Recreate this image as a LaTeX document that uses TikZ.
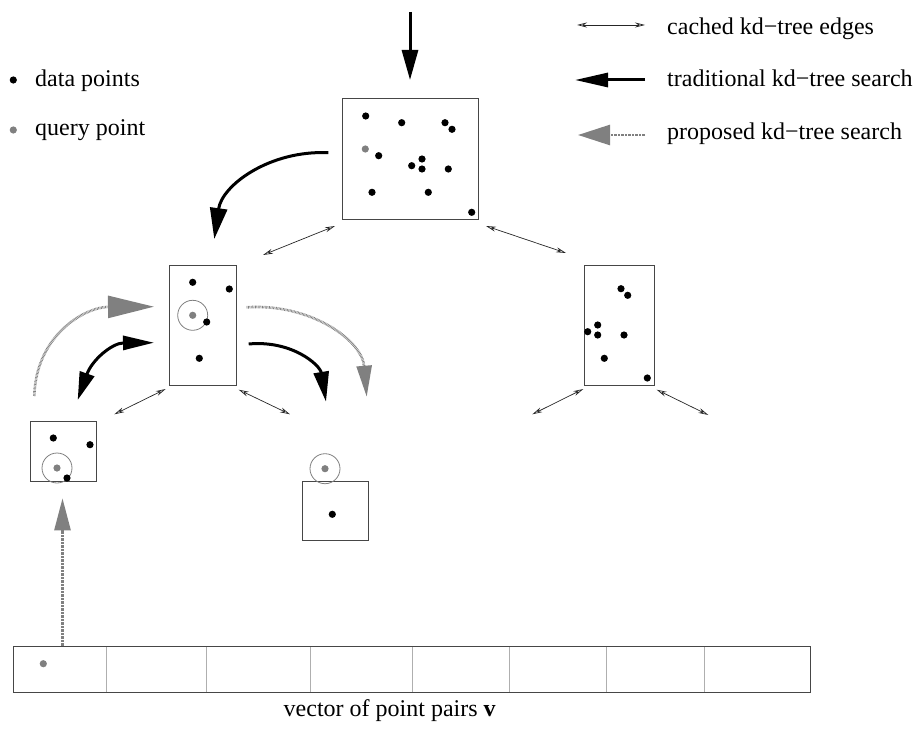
\documentclass[tikz,border=0pt]{standalone}
\usepackage{fontspec}
\setmainfont{Liberation Serif}
\usetikzlibrary{arrows.meta}
\definecolor{qgray}{RGB}{128,128,128}
\definecolor{boxgray}{RGB}{70,70,70}
\definecolor{divgray}{RGB}{175,175,175}
\tikzset{
  kdbox/.style={draw=boxgray, line width=1pt, inner sep=0pt, outer sep=0pt, rectangle},
  cached/.style={line width=0.7pt, black!85, {Stealth[length=10pt,width=5pt,open]}-{Stealth[length=10pt,width=5pt,open]}},
  trad/.style={line width=3pt, black},
  prop/.style={line width=2.6pt, qgray, dash pattern=on 0.7pt off 0.7pt},
  lbl/.style={anchor=base west, inner sep=0pt, font=\fontsize{24}{28}\selectfont},
  srch/.style={draw=qgray, line width=0.8pt},
}
\newcommand\dpt[1]{\fill[black] #1 circle[radius=3.6pt];}
\newcommand\qpt[1]{\fill[qgray] #1 circle[radius=3.6pt];}
\begin{document}
\begin{tikzpicture}[x=1pt,y=-1pt]
\useasboundingbox (0,0) rectangle (920,738);

% ---------- legend ----------
\coordinate (lc1) at (645,25); \coordinate (lc2) at (577,25);
\draw[cached] (lc1) -- (lc2);
\node[lbl] (lcached) at (667,35) {cached kd\textminus tree edges};
\coordinate (lt1) at (645,80); \coordinate (lt2) at (575,80);
\draw[trad, -{Triangle[length=33pt,width=14pt]}] (lt1) -- (lt2);
\node[lbl] (ltrad) at (667,87) {traditional kd\textminus tree search};
\coordinate (lp1) at (645,135); \coordinate (lp2) at (578,135);
\draw[prop, -{Triangle[length=32pt,width=20pt]}] (lp1) -- (lp2);
\node[lbl] (lprop) at (667,140) {proposed kd\textminus tree search};

\dpt{(13.3,80)}
\node[lbl] (ldata) at (35,86.5) {data points};
\qpt{(13.3,130)}
\node[lbl] (lquery) at (35,136) {query point};

% ---------- boxes ----------
\node[kdbox, minimum width=136pt, minimum height=120pt] (root) at (410,159) {};
\node[kdbox, minimum width=66.6pt, minimum height=119.7pt] (lm) at (203,325.2) {};
\node[kdbox, minimum width=70pt, minimum height=119.7pt] (rm) at (619.3,325.2) {};
\node[kdbox, minimum width=66.4pt, minimum height=59.7pt] (ls) at (63.5,451.2) {};
\node[kdbox, minimum width=66.4pt, minimum height=59.7pt] (rs) at (335.5,510.9) {};

% root points
\dpt{(365.7,116)} \dpt{(401.7,122.7)} \dpt{(445,122.7)} \dpt{(452,129.3)}
\qpt{(365.3,149)}
\dpt{(378.7,155.7)} \dpt{(422,159)} \dpt{(411.7,165.7)} \dpt{(422,169)}
\dpt{(448.3,169)} \dpt{(372,192.3)} \dpt{(428.3,192.3)} \dpt{(471.7,212.3)}

% left middle points
\dpt{(192.7,282.3)} \dpt{(229.3,289)}
\draw[srch] (192.7,315.3) circle[radius=15pt];
\qpt{(192.7,315.3)}
\dpt{(206.7,322)} \dpt{(199.3,358.3)}

% right middle points
\dpt{(621,288.7)} \dpt{(627.7,295.3)} \dpt{(597.7,325)} \dpt{(587.7,331.7)}
\dpt{(597.7,335)} \dpt{(624,335)} \dpt{(604.3,358.3)} \dpt{(647.3,378)}

% left small points
\dpt{(53.3,438)} \dpt{(90,444.7)}
\draw[srch] (57,468) circle[radius=15pt];
\qpt{(57,468)}
\dpt{(67,478)}

% right small
\draw[srch] (325,468.7) circle[radius=15pt];
\qpt{(325,468.7)}
\dpt{(332.3,514.3)}

% ---------- cached edges ----------
\coordinate (e1a) at (263,255);   \coordinate (e1b) at (335,226);
\coordinate (e2a) at (486,226);   \coordinate (e2b) at (566,253);
\coordinate (e3a) at (114.3,414.3); \coordinate (e3b) at (165.7,389);
\coordinate (e4a) at (238.7,389.7); \coordinate (e4b) at (290,414.3);
\coordinate (e5a) at (532.3,414.3); \coordinate (e5b) at (583.3,389);
\coordinate (e6a) at (656.7,389.7); \coordinate (e6b) at (708.3,415);
\draw[cached] (e1a) -- (e1b);
\draw[cached] (e2a) -- (e2b);
\draw[cached] (e3a) -- (e3b);
\draw[cached] (e4a) -- (e4b);
\draw[cached] (e5a) -- (e5b);
\draw[cached] (e6a) -- (e6b);

% ---------- traditional search ----------
\coordinate (top) at (410,12); \coordinate (toptip) at (410,80);
\draw[trad, -{Triangle[length=30pt,width=16pt]}] (top) -- (toptip);

\coordinate (t1s) at (328.3,152.7); \coordinate (t1e) at (214.3,239);
\draw[trad, -{Triangle[length=31pt,width=17pt]}] (t1s) .. controls (270,150) and (222,185) .. (t1e);

\coordinate (t2s) at (77.7,400); \coordinate (t2e) at (154,342.7);
\draw[trad, {Triangle[length=28pt,width=15pt]}-{Triangle[length=31pt,width=14pt]}] (t2s) .. controls (92,360) and (112,343) .. (t2e);

\coordinate (t3s) at (248.7,344); \coordinate (t3e) at (326,401.7);
\draw[trad, -{Triangle[length=30pt,width=15pt]}] (t3s) .. controls (292,340) and (320,365) .. (t3e);

% ---------- proposed search ----------
\coordinate (p1s) at (34.3,396); \coordinate (p1e) at (154,306.7);
\draw[prop, -{Triangle[length=46pt,width=22pt]}] (p1s) .. controls (36,335) and (85,307) .. (p1e);

\coordinate (p2s) at (246.7,307.3); \coordinate (p2e) at (366.7,396.7);
\draw[prop, -{Triangle[length=31pt,width=15pt]}] (p2s) .. controls (310,303) and (362,340) .. (p2e);

% ---------- vector ----------
\node[kdbox, minimum width=796.3pt, minimum height=46pt] (vec) at (411.85,669.7) {};
\foreach \x in {106.7,206.8,310,412,509,606,704}
  \draw[divgray, line width=1pt] (\x,647.2) -- (\x,692.2);
\qpt{(43.3,663.7)}
\coordinate (pvs) at (62.5,646);
\draw[prop, -{Triangle[length=32pt,width=16pt]}] (pvs) -- (62.5,498.3);
\node[anchor=base, inner sep=0pt, font=\fontsize{24}{28}\selectfont] (vlabel) at (389.7,716.5) {vector of point pairs \textbf{v}};
\end{tikzpicture}
\end{document}
